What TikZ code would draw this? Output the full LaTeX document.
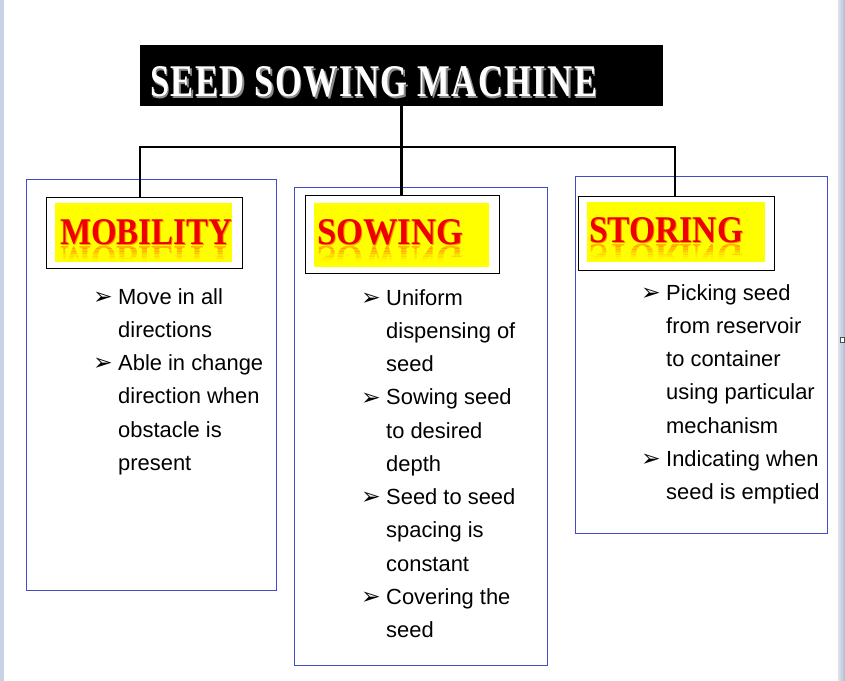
\documentclass[tikz,border=0pt]{standalone}
\usepackage{fontspec}
\setmainfont{Liberation Sans}
\newfontfamily\dejavu{DejaVu Sans}
\newfontfamily\serifb{Liberation Serif}
\usepackage{graphicx}

\definecolor{boxblue}{RGB}{64,76,200}
\definecolor{hdyellow}{RGB}{255,255,0}
\definecolor{hdred}{RGB}{238,0,0}
\definecolor{refl}{RGB}{255,140,0}
\definecolor{stripL}{RGB}{200,210,230}
\definecolor{stripR1}{RGB}{222,228,238}
\definecolor{stripR2}{RGB}{178,188,210}

\newcommand\bl{\makebox[25bp][l]{\raisebox{-0.3bp}{\dejavu\fontsize{23.5}{24}\selectfont ➢}}}
\newcommand\ind{\hspace*{25bp}}
\newcommand\hdMob{\resizebox{172bp}{25bp}{\serifb\bfseries MOBILITY}}
\newcommand\hdSow{\resizebox{146bp}{25bp}{\serifb\bfseries SOWING}}
\newcommand\hdSto{\resizebox{154bp}{25bp}{\serifb\bfseries STORING}}
\newcommand\ttl{\resizebox{447bp}{30bp}{\serifb\bfseries\addfontfeatures{LetterSpace=4} SEED SOWING MACHINE}}

\tikzset{
  outerbox/.style={draw=boxblue, line width=0.9bp, anchor=north west, inner sep=0},
  headbox/.style={draw=black, line width=1.4bp, anchor=north west, inner sep=0},
  yelbox/.style={fill=hdyellow, anchor=north west, inner sep=0},
  conn/.style={line width=2.8bp, black},
  listtext/.style={anchor=base west, inner sep=0, font=\fontsize{22}{33.4}\selectfont},
  hdtext/.style={anchor=base west, inner sep=0, text=hdred},
  hdshadow/.style={anchor=base west, inner sep=0, text=refl},
}

\begin{document}
\begin{tikzpicture}[x=1bp,y=-1bp]
\useasboundingbox (0,0) rectangle (845,681);
\fill[white] (0,0) rectangle (845,681);
% window side strips
\fill[stripL] (0,0) rectangle (4,681);
\shade[left color=stripR1, right color=stripR2] (838,0) rectangle (845,681);
\draw[black!70, fill=white, line width=0.6bp] (840,337) rectangle (844,342);

% title
\node[fill=black, anchor=north west, inner sep=0, minimum width=523bp, minimum height=61bp] (title) at (140,45) {};
\node[anchor=base west, inner sep=0, text=black!45] (ttlshadow) at (151.5,98.5) {\ttl};
\node[anchor=base west, inner sep=0, text=white] (ttltext) at (150,97) {\ttl};

% outer blue boxes
\node[outerbox, minimum width=250bp, minimum height=411bp] (mobouter) at (26,179) {};
\node[outerbox, minimum width=253bp, minimum height=478bp] (sowouter) at (294,187) {};
\node[outerbox, minimum width=252bp, minimum height=357bp] (stoouter) at (575,176) {};

% heading boxes
\node[headbox, minimum width=196bp, minimum height=71bp] (mobhead) at (46,197) {};
\node[headbox, minimum width=194bp, minimum height=78bp] (sowhead) at (305,195) {};
\node[headbox, minimum width=196bp, minimum height=74bp] (stohead) at (578,196) {};

\node[yelbox, minimum width=177bp, minimum height=59bp] (mobyel) at (55,203) {};
\node[yelbox, minimum width=175bp, minimum height=64bp] (sowyel) at (314,203) {};
\node[yelbox, minimum width=178bp, minimum height=60bp] (stoyel) at (587,202) {};

% heading texts with reflections
\foreach \i/\o in {0/0.65,1/0.5,2/0.36,3/0.24,4/0.13,5/0.06} {
  \begin{scope}
    \clip (55,{246+2.5*\i}) rectangle (232,{246+2.5*\i+2.5});
    \node[hdshadow, opacity=\o] (mobrefl\i) at (60,246) {\scalebox{1}[-1]{\hdMob}};
  \end{scope}
  \begin{scope}
    \clip (314,{246+2.5*\i}) rectangle (489,{246+2.5*\i+2.5});
    \node[hdshadow, opacity=\o] (sowrefl\i) at (317,246) {\scalebox{1}[-1]{\hdSow}};
  \end{scope}
  \begin{scope}
    \clip (587,{244+2.5*\i}) rectangle (765,{244+2.5*\i+2.5});
    \node[hdshadow, opacity=\o] (storefl\i) at (589,244) {\scalebox{1}[-1]{\hdSto}};
  \end{scope}
}
\node[hdshadow] (mobsh) at (61,245) {\hdMob};
\node[hdtext] (mobtxt) at (60,244.5) {\hdMob};
\node[hdshadow] (sowsh) at (318,245) {\hdSow};
\node[hdtext] (sowtxt) at (317,244.5) {\hdSow};
\node[hdshadow] (stosh) at (590,243) {\hdSto};
\node[hdtext] (stotxt) at (589,242.5) {\hdSto};

% bullet lists
\node[listtext] (moblist) at (93,304) {\begin{tabular}[t]{@{}l@{}}
\bl Move in all\\
\ind directions\\
\bl Able in change\\
\ind direction when\\
\ind obstacle is\\
\ind present
\end{tabular}};

\node[listtext] (sowlist) at (361,305) {\begin{tabular}[t]{@{}l@{}}
\bl Uniform\\
\ind dispensing of\\
\ind seed\\
\bl Sowing seed\\
\ind to desired\\
\ind depth\\
\bl Seed to seed\\
\ind spacing is\\
\ind constant\\
\bl Covering the\\
\ind seed
\end{tabular}};

\node[listtext] (stolist) at (641,300) {\begin{tabular}[t]{@{}l@{}}
\bl Picking seed\\
\ind from reservoir\\
\ind to container\\
\ind using particular\\
\ind mechanism\\
\bl Indicating when\\
\ind seed is emptied
\end{tabular}};

% connectors
\coordinate (busL) at (140,147);
\coordinate (busR) at (675,147);
\draw[conn] (title.south) -- (title.south |- sowhead.north);
\draw[conn] (busL |- mobhead.north) -- (busL) -- (busR) -- (busR |- stohead.north);
\end{tikzpicture}
\end{document}
